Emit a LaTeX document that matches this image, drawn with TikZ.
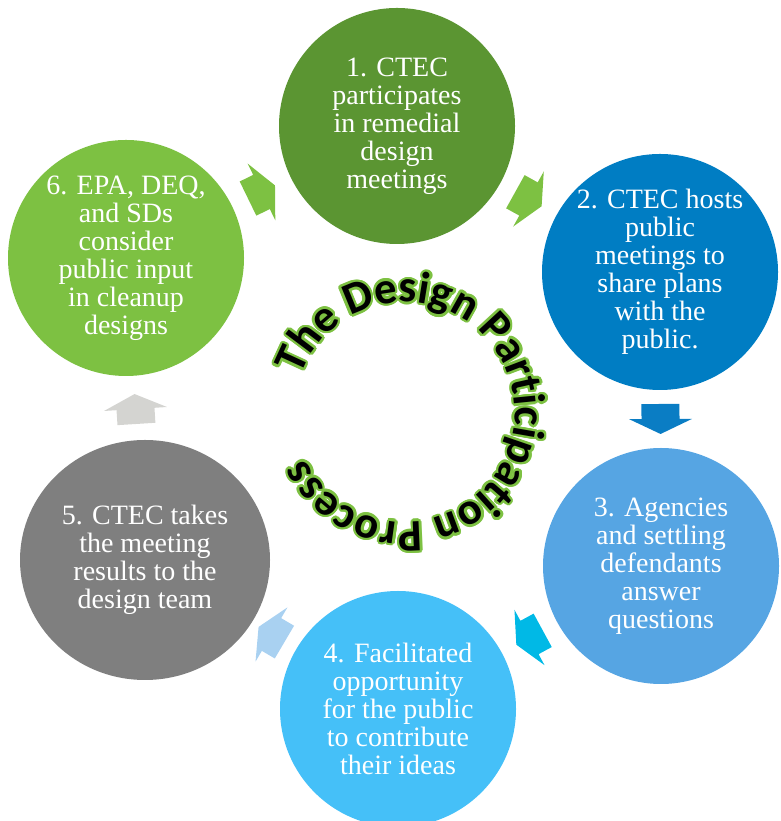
\documentclass[tikz,border=0pt]{standalone}
\usepackage{fontspec}
\setmainfont{Liberation Serif}
\newfontfamily\titlefont{Carlito}
\usetikzlibrary{decorations.text,shapes.geometric}

% stage colours
\definecolor{stepone}{HTML}{5B9532}
\definecolor{steptwo}{HTML}{007DC3}
\definecolor{stepthree}{HTML}{56A5E3}
\definecolor{stepfour}{HTML}{45C0F8}
\definecolor{stepfive}{HTML}{7F7F7F}
\definecolor{stepsix}{HTML}{7DC142}
% arrow colours
\definecolor{arrowgreen}{HTML}{7DC142}
\definecolor{arrowblue}{HTML}{0A7DC4}
\definecolor{arrowcyan}{HTML}{00B9E6}
\definecolor{arrowpale}{HTML}{A9D1F1}
\definecolor{arrowgrey}{HTML}{D4D4D1}
\definecolor{titleglow}{HTML}{7DC142}

\newcommand{\titlestyle}{\titlefont\bfseries\fontsize{45}{47}\selectfont}

\tikzset{
  stage/.style={circle, minimum size=236pt, inner sep=0pt, text=white,
    align=center, font=\fontsize{28}{28}\selectfont},
  % short block arrow pointing along +x, centred on its length
  flowarrow/.pic={
    \fill[#1] (-15,-19) -- (0,-19) -- (0,-31.5) -- (15,0) -- (0,31.5)
      -- (0,19) -- (-15,19) -- cycle;
  },
}

\begin{document}
\begin{tikzpicture}[x=1pt,y=1pt]
\useasboundingbox (0,0) rectangle (780,821);

% the six stages
\node[stage, fill=stepone]   (s1) at (397,695) {1. CTEC\\participates\\in remedial\\design\\meetings};
\node[stage, fill=steptwo]   (s2) at (660,549) {2. CTEC hosts\\public\\meetings to\\share plans\\with the\\public.};
\node[stage, fill=stepthree] (s3) at (661,255) {3. Agencies\\and settling\\defendants\\answer\\questions};
\node[stage, fill=stepfour]  (s4) at (398,112) {4. Facilitated\\opportunity\\for the public\\to contribute\\their ideas};
\node[stage, ellipse, minimum width=250pt, minimum height=240pt, fill=stepfive]
                             (s5) at (145,261) {5. CTEC takes\\the meeting\\results to the\\design team};
\node[stage, fill=stepsix]   (s6) at (126,563) {6. EPA, DEQ,\\and SDs\\consider\\public input\\in cleanup\\designs};

% arrows between consecutive stages
\path (s1.center) -- (s2.center) pic[pos=0.5, sloped, allow upside down] {flowarrow=arrowgreen};
\path (s2.center) -- (s3.center) pic[pos=0.5, sloped, allow upside down] {flowarrow=arrowblue};
\path (s3.center) -- (s4.center) pic[pos=0.5, sloped, allow upside down] {flowarrow=arrowcyan};
\path (s4.center) -- (s5.center) pic[pos=0.5, sloped, allow upside down] {flowarrow=arrowpale};
\path (s5.center) -- (s6.center) pic[pos=0.5, sloped, allow upside down] {flowarrow=arrowgrey};
\path (s6.center) -- (s1.center) pic[pos=0.5, sloped, allow upside down] {flowarrow=arrowgreen};

% circular title: green halo first, black letters on top
\coordinate (hub) at (405,409);
\foreach \a in {0,22.5,...,337.5} {
  \path[decorate, decoration={text along path,
      text={|\titlestyle\color{titleglow}|The Design Participation Process}, text align=left}]
    ([shift={(\a:2.4)}]hub) ++(161:110) arc[start angle=161, end angle=-185, radius=110];
}
\path[decorate, decoration={text along path,
    text={|\titlestyle\color{black}|The Design Participation Process}, text align=left}]
  (hub) ++(161:110) arc[start angle=161, end angle=-185, radius=110];
\end{tikzpicture}
\end{document}
